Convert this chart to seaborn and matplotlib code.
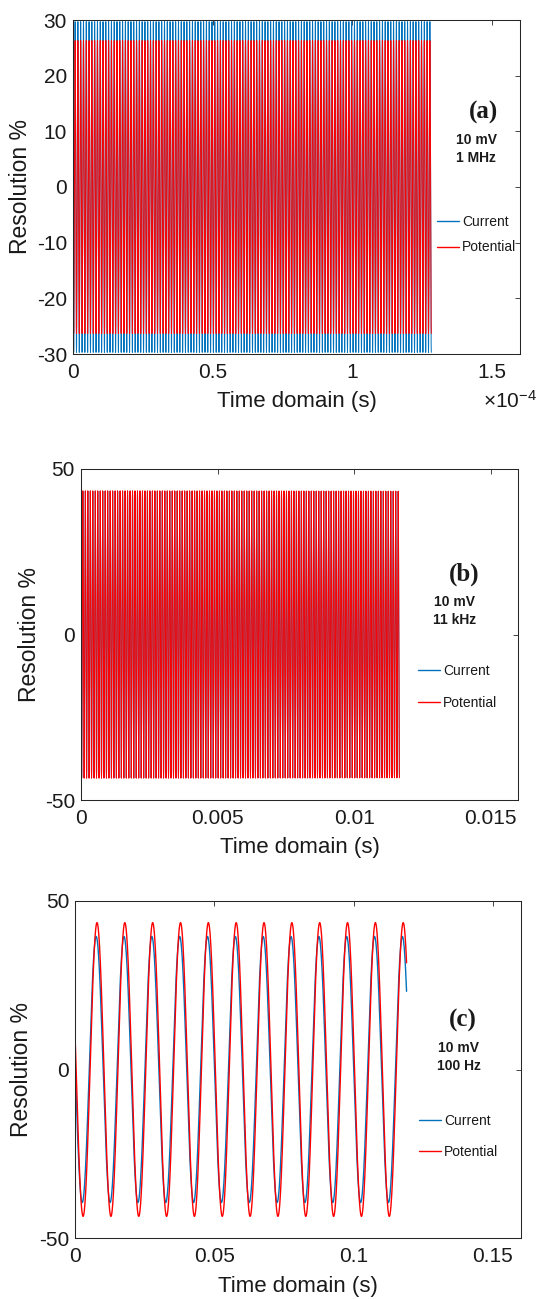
import numpy as np
import pandas as pd
import matplotlib
matplotlib.use("Agg")
import matplotlib.pyplot as plt
from matplotlib.lines import Line2D
import seaborn as sns

# ---------------- data ----------------
panel_tags = ["(a)", "(b)", "(c)"]
amplitude_text = ["10 mV", "10 mV", "10 mV"]
frequency_text = ["1 MHz", "11 kHz", "100 Hz"]
series_names = ["Current", "Potential"]

frequency_hz = [1.0e6, 11.0e3, 100.0]            # excitation frequency
end_time_s = [1.2825e-4, 1.166e-2, 0.1190]        # last recorded time
current_amp = [29.7, 43.3, 39.4]                  # peak resolution % of current
potential_amp = [26.3, 43.4, 43.5]                # peak resolution % of potential
potential_phase_deg = [0.0, 0.0, 10.6]            # phase shift of potential
samples_per_cycle = [20, 20, 200]

x_ticks = [[0, 0.5e-4, 1.0e-4, 1.5e-4], [0, 0.005, 0.01, 0.015], [0, 0.05, 0.1, 0.15]]
x_ticklabels = [["0", "0.5", "1", "1.5"], ["0", "0.005", "0.01", "0.015"], ["0", "0.05", "0.1", "0.15"]]
x_limits = [(0, 1.6e-4), (0, 0.016), (0, 0.16)]
y_ticks = [[-30, -20, -10, 0, 10, 20, 30], [-50, 0, 50], [-50, 0, 50]]
y_limits = [(-30, 30), (-50, 50), (-50, 50)]
x_offset_text = ["$\\times10^{\\mathdefault{-4}}$", "", ""]
x_label = "Time domain (s)"
y_label = "Resolution %"

# ---------------- styling ----------------
sns.set_style("white")
plt.rcParams["font.family"] = ["Liberation Sans", "DejaVu Sans"]
plt.rcParams["mathtext.fontset"] = "custom"
plt.rcParams["mathtext.rm"] = "Liberation Sans"
plt.rcParams["mathtext.it"] = "Liberation Sans"
plt.rcParams["axes.unicode_minus"] = False

W, H = 539, 1299
fig = plt.figure(figsize=(W / 100, H / 100), dpi=100)
fig.patch.set_facecolor("white")

colors = {"Current": "#0072BD", "Potential": "#FF0000"}
ink = "#1a1a1a"

# axes boxes in pixels: left, right, top, bottom
boxes = [(73, 520, 20, 354), (81, 518, 469, 800), (75.3, 520.7, 900.7, 1238.3)]
tag_pos = [(483, 112), (464, 574), (463, 1020)]
info_pos = [(476, 140, 158), (455, 602, 620), (459, 1048, 1066)]
legend_pos = [(437, 234.5, 0.85), (418, 687, 1.25), (419, 1136.5, 1.25)]
offset_pos = [(510, 401)]

for i in range(3):
    l, r, t, b = boxes[i]
    ax = fig.add_axes([l / W, 1 - b / H, (r - l) / W, (b - t) / H])

    n = int(round(end_time_s[i] * frequency_hz[i] * samples_per_cycle[i])) + 1
    time = np.linspace(0, end_time_s[i], n)
    w = 2 * np.pi * frequency_hz[i]
    cur = -current_amp[i] * np.sin(w * time)
    pot = -potential_amp[i] * np.sin(w * time - np.deg2rad(potential_phase_deg[i]))
    df = pd.DataFrame({
        "t": np.concatenate([time, time]),
        "v": np.concatenate([cur, pot]),
        "series": [series_names[0]] * n + [series_names[1]] * n,
    })
    lw = 0.7 if i < 2 else 1.0
    sns.lineplot(data=df, x="t", y="v", hue="series", palette=colors,
                 estimator=None, sort=False, legend=False, linewidth=lw, ax=ax)

    ax.set_xlim(*x_limits[i])
    ax.set_ylim(*y_limits[i])
    ax.set_xticks(x_ticks[i])
    ax.set_xticklabels(x_ticklabels[i])
    ax.set_yticks(y_ticks[i])
    ax.set_yticklabels([str(v) for v in y_ticks[i]])
    ax.tick_params(direction="in", top=True, right=True, length=3.5, width=0.6,
                   color="#262626", labelsize=15, labelcolor=ink)
    ax.tick_params(axis="x", pad=6.5)
    ax.tick_params(axis="y", pad=4.3)
    for s in ax.spines.values():
        s.set_color("#262626")
        s.set_linewidth(0.75)
        s.set_visible(True)

    ax.set_xlabel(x_label, fontsize=16, color=ink)
    ax.set_ylabel(y_label, fontsize=16.5, color=ink)
    ax.xaxis.set_label_coords(0.5, -(48.0 / (b - t)))
    ax.xaxis.label.set_verticalalignment("center")
    ylx = [21, 29, 22][i]
    ax.yaxis.set_label_coords((ylx - l) / (r - l), 0.5)
    ax.yaxis.label.set_verticalalignment("center")

    handles = [Line2D([], [], color=colors[s], linewidth=1.0) for s in series_names]
    lx, ly, sp = legend_pos[i]
    ax.legend(handles, series_names, loc="center left",
              bbox_to_anchor=(lx / W, 1 - ly / H), bbox_transform=fig.transFigure,
              frameon=False, fontsize=10, handlelength=1.55, handletextpad=0.25,
              labelspacing=sp, borderpad=0, borderaxespad=0, labelcolor=ink)

    tx, ty = tag_pos[i]
    fig.text(tx / W, 1 - ty / H, panel_tags[i], ha="center", va="center",
             fontsize=18, fontweight="bold", family="Liberation Serif", color=ink)
    ix, iy1, iy2 = info_pos[i]
    fig.text(ix / W, 1 - iy1 / H, amplitude_text[i], ha="center", va="center",
             fontsize=10, fontweight="bold", color=ink)
    fig.text(ix / W, 1 - iy2 / H, frequency_text[i], ha="center", va="center",
             fontsize=10, fontweight="bold", color=ink)
    if x_offset_text[i]:
        ox, oy = offset_pos[i]
        fig.text(ox / W, 1 - oy / H, x_offset_text[i], ha="center", va="center",
                 fontsize=15, color=ink)

fig.savefig("out.png", dpi=100)
